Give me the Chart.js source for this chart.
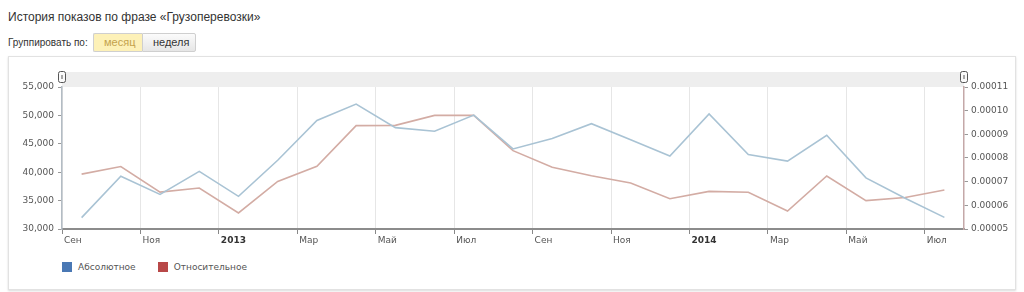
<!DOCTYPE html>
<html>
<head>
<meta charset="utf-8">
<script src="https://cdn.jsdelivr.net/npm/chart.js@4"></script>
<style>
    body { margin: 0; width: 1024px; height: 292px; background: #fff; font-family: Arial, "Liberation Sans", sans-serif; position: relative; overflow: hidden; }
    .title { position: absolute; left: 8px; top: 10px; font-size: 12px; color: #333; }
    .group { position: absolute; left: 8px; top: 37px; font-size: 10px; color: #333; }
    .btns { position: absolute; left: 93px; top: 33px; display: flex; font-size: 11px; }
    .btn { height: 17px; line-height: 17px; padding: 0 10px; border: 1px solid #cfcfcf; }
    .btn--on { background: #fdf1b8; color: #c4a24c; border-right: none; border-radius: 2px 0 0 2px; width: 28px; }
    .btn--off { background: linear-gradient(#fbfbfb, #e6e6e6); color: #333; border-radius: 0 2px 2px 0; width: 32px; }
    .panel { position: absolute; left: 8px; top: 56px; width: 1006px; height: 232px; border: 1px solid #e2e2e2; box-shadow: 0 1px 2px rgba(0,0,0,0.15); }
    .chart-wrap { position: absolute; left: 0; top: 0; width: 1008px; height: 200px; }
    .legend { position: absolute; top: 205px; left: 53px; display: flex; font-family: "DejaVu Sans", Verdana, sans-serif; font-size: 9px; color: #555; }
    .legend span { display: flex; align-items: center; margin-right: 22px; }
    .legend i { display: inline-block; width: 10px; height: 10px; margin-right: 6px; }
</style>
</head>
<body>
<div class="title">История показов по фразе «Грузоперевозки»</div>
<div class="group">Группировать по:</div>
<div class="btns"><div class="btn btn--on">месяц</div><div class="btn btn--off">неделя</div></div>
<div class="panel">
    <div class="chart-wrap"><canvas id="historyChart"></canvas></div>
    <div class="legend">
        <span><i style="background:#4a78b4"></i>Абсолютное</span>
        <span><i style="background:#b84848"></i>Относительное</span>
    </div>
</div>
<script>
// monthly points, Sep 2012 .. Jul 2014
const months = ['09.2012','10.2012','11.2012','12.2012','01.2013','02.2013','03.2013','04.2013','05.2013','06.2013','07.2013','08.2013',
    '09.2013','10.2013','11.2013','12.2013','01.2014','02.2014','03.2014','04.2014','05.2014','06.2014','07.2014'];
const absolute = [32000, 39300, 36100, 40150, 35750, 42100, 49100, 52000, 47850, 47200, 50050, 44100,
    45950, 48550, 45700, 42850, 50250, 43100, 41950, 46500, 39000, 35400, 32050];
const relative = [0.0000732, 0.0000764, 0.0000656, 0.0000673, 0.0000568, 0.0000701, 0.0000765, 0.0000937, 0.0000938, 0.0000980, 0.0000980, 0.0000831,
    0.0000761, 0.0000725, 0.0000694, 0.0000628, 0.0000659, 0.0000655, 0.0000576, 0.0000724, 0.0000620, 0.0000633, 0.0000665];

const xTickLabels = ['Сен', 'Ноя', '2013', 'Мар', 'Май', 'Июл', 'Сен', 'Ноя', '2014', 'Мар', 'Май', 'Июл'];
const xTickPos = [-0.5, 1.5, 3.5, 5.5, 7.5, 9.5, 11.5, 13.5, 15.5, 17.5, 19.5, 21.5];
const leftTicks = [30000, 35000, 40000, 45000, 50000, 55000];
const rightTicks = [0.00005, 0.00006, 0.00007, 0.00008, 0.00009, 0.00010, 0.00011];

const tickFont = { family: '"DejaVu Sans", Verdana, sans-serif', size: 9 };
const isYear = i => /^\d{4}$/.test(xTickLabels[i]);

// grey scroller band above the plot with its two handles
const scrollerPlugin = {
    id: 'scroller',
    beforeDraw(chart) {
        const { ctx, chartArea: a } = chart;
        ctx.save();
        ctx.fillStyle = '#eeeeee';
        ctx.fillRect(a.left, a.top - 15, a.right - a.left, 15);
        [a.left, a.right].forEach(x => {
            ctx.fillStyle = '#fafafa';
            ctx.strokeStyle = '#555';
            ctx.lineWidth = 1;
            ctx.beginPath();
            ctx.roundRect(x - 3.5, a.top - 15.5, 7, 11, 2);
            ctx.fill();
            ctx.stroke();
            ctx.beginPath();
            ctx.moveTo(x, a.top - 12);
            ctx.lineTo(x, a.top - 8);
            ctx.stroke();
        });
        ctx.restore();
    }
};

const ctx = document.getElementById('historyChart').getContext('2d');

new Chart(ctx, {
    type: 'line',
    data: {
        datasets: [{
            label: 'Абсолютное',
            data: absolute.map((v, i) => ({ x: i, y: v })),
            yAxisID: 'y',
            borderColor: '#a9c3d4',
            borderWidth: 1.6,
            pointRadius: 0,
            tension: 0
        }, {
            label: 'Относительное',
            data: relative.map((v, i) => ({ x: i, y: v })),
            yAxisID: 'y2',
            borderColor: '#d3aca4',
            borderWidth: 1.6,
            pointRadius: 0,
            tension: 0
        }]
    },
    options: {
        responsive: true,
        maintainAspectRatio: false,
        animation: false,
        layout: { padding: { top: 30, left: 0, right: 0, bottom: 0 } },
        plugins: {
            legend: { display: false },
            tooltip: { enabled: false }
        },
        scales: {
            x: {
                type: 'linear',
                min: -0.5,
                max: 22.5,
                afterBuildTicks: s => { s.ticks = xTickPos.map(v => ({ value: v })); },
                afterFit: s => { s.height = 28; },
                grid: { color: '#e6e6e6', tickColor: '#888', tickLength: 5 },
                border: { color: '#8c8c8c', width: 2 },
                ticks: {
                    padding: 1,
                    align: 'start',
                    labelOffset: 2,
                    maxRotation: 0,
                    autoSkip: false,
                    color: c => isYear(c.index) ? '#333' : '#555',
                    font: c => ({ ...tickFont, weight: isYear(c.index) ? 'bold' : 'normal' }),
                    callback: (v, i) => xTickLabels[i]
                }
            },
            y: {
                position: 'left',
                min: 30000,
                max: 55000,
                afterBuildTicks: s => { s.ticks = leftTicks.map(v => ({ value: v })); },
                afterFit: s => { s.width = 53; },
                grid: { color: 'rgba(0,0,0,0)', tickColor: '#999', tickLength: 4 },
                border: { color: '#b3bcc4', width: 1.5 },
                ticks: {
                    color: '#555',
                    font: tickFont,
                    padding: 4,
                    callback: v => v.toLocaleString('en-US')
                }
            },
            y2: {
                position: 'right',
                min: 0.00005,
                max: 0.00011,
                afterBuildTicks: s => { s.ticks = rightTicks.map(v => ({ value: v })); },
                afterFit: s => { s.width = 53; },
                grid: { color: 'rgba(0,0,0,0)', tickColor: '#999', tickLength: 4, drawOnChartArea: false },
                border: { color: '#c4a8a8', width: 1.5 },
                ticks: {
                    color: '#555',
                    font: tickFont,
                    padding: 3,
                    callback: v => v.toFixed(5)
                }
            }
        }
    },
    plugins: [scrollerPlugin]
});
</script>
</body>
</html>
